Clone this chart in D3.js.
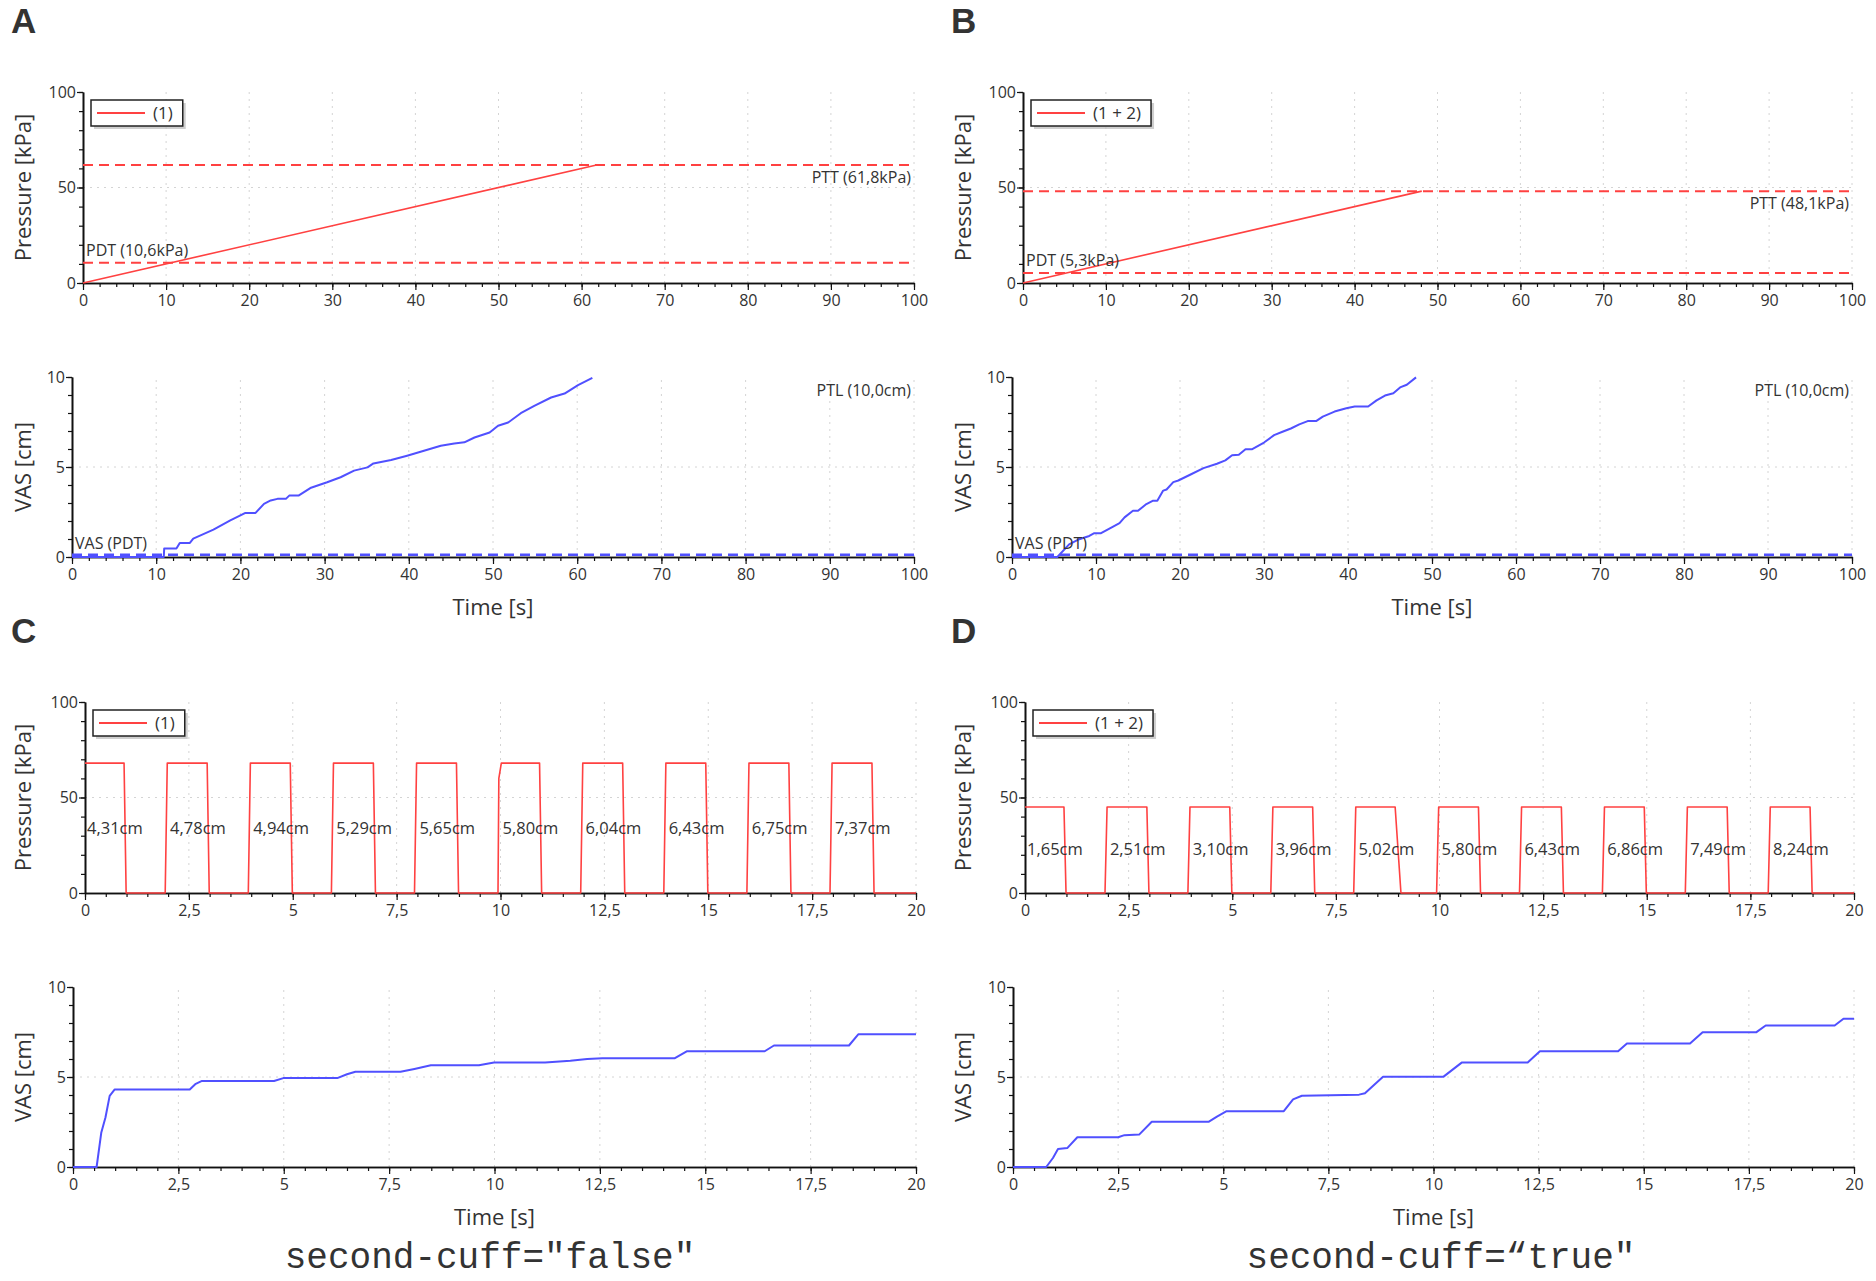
<!DOCTYPE html>
<html>
<head>
<meta charset="utf-8">
<script src="https://d3js.org/d3.v7.min.js"></script>
<style>
  body { margin: 0; background: #fff; }
  svg text { font-family: "Open Sans", "Noto Sans", sans-serif; fill: #333; }
</style>
</head>
<body>
<script>

// ---- values ----
var panelLetters = ["A", "B", "C", "D"];
var legendLabels = ["(1)", "(1 + 2)"];
var captions = ['second-cuff="false"', 'second-cuff=\u201ctrue"'];

var rampTicks = [0, 10, 20, 30, 40, 50, 60, 70, 80, 90, 100];
var pulseTicks = [0, 2.5, 5, 7.5, 10, 12.5, 15, 17.5, 20];
var pulseTickLabels = ["0", "2,5", "5", "7,5", "10", "12,5", "15", "17,5", "20"];
var pressureTicks = [0, 50, 100];
var vasTicks = [0, 5, 10];

// A / B : ramp stimulation
var pttValues = [61.8, 48.1];
var pdtValues = [10.6, 5.3];
var pttLabels = ["PTT (61,8kPa)", "PTT (48,1kPa)"];
var pdtLabels = ["PDT (10,6kPa)", "PDT (5,3kPa)"];
var vasAtPdt = [0.12, 0.12];
var ptlLabel = "PTL (10,0cm)";

var rampA = [[0, 0], [61.8, 61.8]];
var rampB = [[0, 0], [48.1, 48.1]];

var vasA = [[0, 0], [10.9, 0], [10.95, 0.47], [12.4, 0.47], [12.8, 0.78], [14.0, 0.78], [14.4, 1.02],
  [16.8, 1.52], [18.8, 2.03], [20.6, 2.45], [21.8, 2.45], [22.8, 2.95], [23.6, 3.14], [24.4, 3.23],
  [25.4, 3.23], [25.8, 3.41], [26.9, 3.41], [28.3, 3.83], [30.3, 4.15], [31.9, 4.43], [33.5, 4.8],
  [35.1, 4.98], [35.8, 5.2], [37.9, 5.39], [39.8, 5.63], [41.8, 5.9], [43.8, 6.18], [45.4, 6.31],
  [46.6, 6.37], [47.8, 6.64], [49.6, 6.92], [50.6, 7.29], [51.8, 7.47], [53.3, 7.99], [54.9, 8.4],
  [56.9, 8.86], [58.5, 9.08], [60.1, 9.55], [61.8, 9.95]];

var vasB = [[0, 0], [5.4, 0], [6.8, 0.7], [8.0, 0.99], [9.2, 1.17], [9.8, 1.32], [10.6, 1.32],
  [11.6, 1.58], [12.8, 1.88], [13.4, 2.2], [14.4, 2.57], [15.0, 2.57], [16.0, 2.94], [16.8, 3.13],
  [17.3, 3.13], [18.0, 3.69], [18.4, 3.75], [19.2, 4.16], [19.8, 4.25], [21.2, 4.57], [22.8, 4.94],
  [24.4, 5.18], [25.4, 5.37], [26.2, 5.65], [27.0, 5.68], [27.8, 5.99], [28.6, 5.99], [30.0, 6.36],
  [31.2, 6.77], [32.2, 6.96], [33.2, 7.14], [34.2, 7.37], [35.2, 7.55], [36.2, 7.55], [37.0, 7.8],
  [38.4, 8.08], [39.8, 8.26], [40.8, 8.36], [42.4, 8.36], [43.4, 8.7], [44.4, 8.97], [45.4, 9.1],
  [46.2, 9.42], [47.0, 9.57], [48.1, 9.98]];

// C / D : pulse trains
var pressC = [[0, 68], [0.94, 68], [0.99, 0],
  [1.93, 0], [1.98, 68], [2.94, 68], [2.99, 0],
  [3.93, 0], [3.98, 68], [4.94, 68], [4.99, 0],
  [5.93, 0], [5.98, 68], [6.94, 68], [6.99, 0],
  [7.93, 0], [7.98, 68], [8.94, 68], [8.99, 0],
  [9.94, 0], [9.96, 60], [10.02, 68], [10.94, 68], [10.99, 0],
  [11.93, 0], [11.98, 68], [12.94, 68], [12.99, 0],
  [13.93, 0], [13.98, 68], [14.94, 68], [14.99, 0],
  [15.93, 0], [15.98, 68], [16.94, 68], [16.99, 0],
  [17.93, 0], [17.98, 68], [18.94, 68], [18.99, 0], [20, 0]];

var pressD = [[0, 45], [0.94, 45], [0.99, 0],
  [1.93, 0], [1.98, 45], [2.94, 45], [2.99, 0],
  [3.93, 0], [3.98, 45], [4.94, 45], [4.99, 0],
  [5.93, 0], [5.98, 45], [6.94, 45], [6.99, 0],
  [7.93, 0], [7.98, 45], [8.93, 45], [9.07, 0],
  [9.93, 0], [9.98, 45], [10.94, 45], [10.99, 0],
  [11.93, 0], [11.98, 45], [12.94, 45], [12.99, 0],
  [13.93, 0], [13.98, 45], [14.94, 45], [14.99, 0],
  [15.93, 0], [15.98, 45], [16.94, 45], [16.99, 0],
  [17.93, 0], [17.98, 45], [18.94, 45], [18.99, 0], [20, 0]];

var pulseStarts = [0, 2, 4, 6, 8, 10, 12, 14, 16, 18];
var pulseLabelsC = ["4,31cm", "4,78cm", "4,94cm", "5,29cm", "5,65cm", "5,80cm", "6,04cm", "6,43cm", "6,75cm", "7,37cm"];
var pulseLabelsD = ["1,65cm", "2,51cm", "3,10cm", "3,96cm", "5,02cm", "5,80cm", "6,43cm", "6,86cm", "7,49cm", "8,24cm"];
var pulseLabelLevel = [34, 23];

var vasC = [[0, 0], [0.56, 0], [0.67, 1.9], [0.77, 2.75], [0.87, 3.95], [0.99, 4.31], [2.77, 4.31],
  [2.9, 4.6], [3.06, 4.78], [4.77, 4.78], [4.99, 4.94], [6.27, 4.94], [6.5, 5.15], [6.7, 5.29],
  [7.77, 5.29], [8.1, 5.45], [8.49, 5.65], [9.63, 5.65], [9.99, 5.80], [11.2, 5.80], [11.8, 5.9],
  [12.2, 6.0], [12.56, 6.04], [14.27, 6.04], [14.56, 6.43], [16.41, 6.43], [16.63, 6.75],
  [18.41, 6.75], [18.63, 7.37], [20, 7.37]];

var vasD = [[0, 0], [0.79, 0], [0.95, 0.5], [1.07, 1.0], [1.29, 1.05], [1.53, 1.65], [2.5, 1.65],
  [2.65, 1.77], [3.0, 1.8], [3.3, 2.51], [4.65, 2.51], [4.85, 2.8], [5.08, 3.10], [6.44, 3.10],
  [6.66, 3.76], [6.87, 3.96], [8.23, 4.02], [8.37, 4.1], [8.8, 5.02], [10.24, 5.02], [10.67, 5.80],
  [12.24, 5.80], [12.53, 6.43], [14.39, 6.43], [14.6, 6.86], [16.1, 6.86], [16.4, 7.49],
  [17.68, 7.49], [17.9, 7.86], [19.54, 7.86], [19.75, 8.24], [20, 8.24]];

// ---- drawing ----
var RED = "#ff4141", BLUE = "#5050ff";

var svg = d3.select("body").append("svg")
  .attr("width", 1876)
  .attr("height", 1281);

var line = d3.line();

function drawPlot(o) {
  var x = d3.scaleLinear().domain(o.xDomain).range([o.x0, o.x1]);
  var y = d3.scaleLinear().domain(o.yDomain).range([o.yb, o.yt]);
  var g = svg.append("g");

  // dotted grid
  g.append("g").selectAll("line")
    .data(o.xTicks.slice(1))
    .join("line")
    .attr("x1", d => x(d)).attr("x2", d => x(d))
    .attr("y1", o.yb).attr("y2", o.yt)
    .attr("stroke", "#d4d4d4").attr("stroke-dasharray", "2,5");
  g.append("line")
    .attr("x1", o.x0).attr("x2", o.x1)
    .attr("y1", y(o.yTicks[1])).attr("y2", y(o.yTicks[1]))
    .attr("stroke", "#d4d4d4").attr("stroke-dasharray", "2,5");

  // minor ticks
  var xMinor = d3.range(o.xDomain[0], o.xDomain[1] + 1e-9, o.xMinor);
  var yMinor = d3.range(o.yDomain[0], o.yDomain[1] + 1e-9, o.yMinor);
  g.append("g").attr("transform", `translate(0,${o.yb})`)
    .call(d3.axisBottom(x).tickValues(xMinor).tickSize(4).tickSizeOuter(0).tickFormat(""));
  g.append("g").attr("transform", `translate(${o.x0},0)`)
    .call(d3.axisLeft(y).tickValues(yMinor).tickSize(4).tickSizeOuter(0).tickFormat(""));

  // major ticks
  var xa = g.append("g").attr("transform", `translate(0,${o.yb})`)
    .call(d3.axisBottom(x).tickValues(o.xTicks).tickSize(7).tickSizeOuter(0)
      .tickFormat((d, i) => o.xLabels[i]));
  var ya = g.append("g").attr("transform", `translate(${o.x0},0)`)
    .call(d3.axisLeft(y).tickValues(o.yTicks).tickSize(6).tickSizeOuter(0));

  g.selectAll(".domain").attr("stroke", "#111").attr("stroke-width", 1.6);
  g.selectAll(".tick line").attr("stroke", "#111").attr("stroke-width", 1.2);
  g.selectAll(".tick text").attr("font-family", null).style("font-size", "16px").attr("fill", "#333");
  xa.selectAll(".tick text").attr("y", 12);
  ya.selectAll(".tick text").attr("x", -7);

  // y label
  g.append("text")
    .attr("transform", `translate(${o.labelX},${(o.yb + o.yt) / 2}) rotate(-90)`)
    .attr("text-anchor", "middle")
    .style("font-size", "22px")
    .text(o.yLabel);

  return {g: g, x: x, y: y};
}

function drawLegend(p, label) {
  var bx = p.x.range()[0] + 8, by = p.y.range()[1] + 8;
  var lg = p.g.append("g").attr("transform", `translate(${bx},${by})`);
  var shadow = lg.append("rect").attr("x", 3).attr("y", 3).attr("height", 26)
    .attr("fill", "#bbb").attr("opacity", 0.7);
  var box = lg.append("rect").attr("height", 26)
    .attr("fill", "#fff").attr("stroke", "#222").attr("stroke-width", 1.5);
  lg.append("line").attr("x1", 6).attr("x2", 54).attr("y1", 13).attr("y2", 13)
    .attr("stroke", RED).attr("stroke-width", 2);
  var t = lg.append("text").attr("x", 62).attr("y", 13).attr("dy", "0.35em")
    .style("font-size", "17px").text(label);
  var w = 62 + t.node().getComputedTextLength() + 10;
  box.attr("width", w);
  shadow.attr("width", w);
}

function hLine(p, v, color, w) {
  p.g.append("line")
    .attr("x1", p.x.range()[0]).attr("x2", p.x.range()[1])
    .attr("y1", p.y(v)).attr("y2", p.y(v))
    .attr("stroke", color).attr("stroke-width", w)
    .attr("stroke-dasharray", "10,6");
}

function curve(p, data, color, w) {
  p.g.append("path")
    .attr("d", line.x(d => p.x(d[0])).y(d => p.y(d[1]))(data))
    .attr("fill", "none").attr("stroke", color).attr("stroke-width", w)
    .attr("stroke-linejoin", "round");
}

var colX = [0, 940];
var rowY = [0, 610];

[0, 1].forEach(function(row) {
  [0, 1].forEach(function(col) {
    var ox = colX[col], oy = rowY[row];
    var isRamp = row === 0;
    var xDomain = isRamp ? [0, 100] : [0, 20];
    var xTicks = isRamp ? rampTicks : pulseTicks;
    var xLabels = isRamp ? rampTicks.map(String) : pulseTickLabels;
    var xMinor = isRamp ? 2 : 0.5;

    // panel letter
    svg.append("text")
      .attr("x", ox + 11).attr("y", oy + 33)
      .style("font-family", '"Liberation Sans", Arial, sans-serif')
      .style("font-weight", "bold").style("font-size", "35px").attr("fill", "#000")
      .text(panelLetters[row * 2 + col]);

    var top = drawPlot({
      x0: ox + 83 + (row ? 2 : 0), x1: ox + 914 + (row ? 2 : 0) - col * 2, yb: oy + 283, yt: oy + 92,
      xDomain: xDomain, yDomain: [0, 100], xTicks: xTicks, xLabels: xLabels,
      xMinor: xMinor, yTicks: pressureTicks, yMinor: 10,
      yLabel: "Pressure [kPa]", labelX: ox + 31
    });
    var bot = drawPlot({
      x0: ox + 72 + (row ? 1 : 0), x1: ox + 914 + (row ? 2 : 0) - col * 2, yb: oy + 557, yt: oy + 377,
      xDomain: xDomain, yDomain: [0, 10], xTicks: xTicks, xLabels: xLabels,
      xMinor: xMinor, yTicks: vasTicks, yMinor: 1,
      yLabel: "VAS [cm]", labelX: ox + 31
    });

    if (isRamp) {
      hLine(top, pttValues[col], RED, 2);
      hLine(top, pdtValues[col], RED, 2);
      curve(top, col ? rampB : rampA, RED, 1.6);
      top.g.append("text")
        .attr("x", top.x(100) - 3).attr("y", top.y(pttValues[col]) + 18)
        .attr("text-anchor", "end").style("font-size", "16px").text(pttLabels[col]);
      top.g.append("text")
        .attr("x", top.x(0) + 3).attr("y", top.y(pdtValues[col]) - 7)
        .style("font-size", "16px").text(pdtLabels[col]);

      hLine(bot, vasAtPdt[col], BLUE, 2.5);
      curve(bot, col ? vasB : vasA, BLUE, 2);
      bot.g.append("text")
        .attr("x", bot.x(100) - 3).attr("y", bot.y(10) + 19)
        .attr("text-anchor", "end").style("font-size", "16px").text(ptlLabel);
      bot.g.append("text")
        .attr("x", bot.x(0) + 3).attr("y", bot.y(vasAtPdt[col]) - 6)
        .style("font-size", "16px").text("VAS (PDT)");
    } else {
      curve(top, col ? pressD : pressC, RED, 1.6);
      var labels = col ? pulseLabelsD : pulseLabelsC;
      top.g.append("g").selectAll("text")
        .data(pulseStarts)
        .join("text")
        .attr("x", d => top.x(d) + 2)
        .attr("y", top.y(pulseLabelLevel[col]))
        .attr("dy", "0.35em")
        .style("font-size", "16.5px")
        .text((d, i) => labels[i]);
      curve(bot, col ? vasD : vasC, BLUE, 2);
    }

    drawLegend(top, legendLabels[col]);

    // time label
    svg.append("text")
      .attr("x", (bot.x.range()[0] + bot.x.range()[1]) / 2)
      .attr("y", oy + 615)
      .attr("text-anchor", "middle")
      .style("font-size", "22px")
      .text("Time [s]");
  });
});

// captions
svg.selectAll(".caption")
  .data(captions)
  .join("text")
  .attr("class", "caption")
  .attr("x", (d, i) => [490, 1441][i])
  .attr("y", 1268)
  .attr("text-anchor", "middle")
  .style("font-family", '"Liberation Mono", "DejaVu Sans Mono", monospace')
  .style("font-size", "36px")
  .attr("fill", "#222")
  .text(d => d);

</script>
</body>
</html>
